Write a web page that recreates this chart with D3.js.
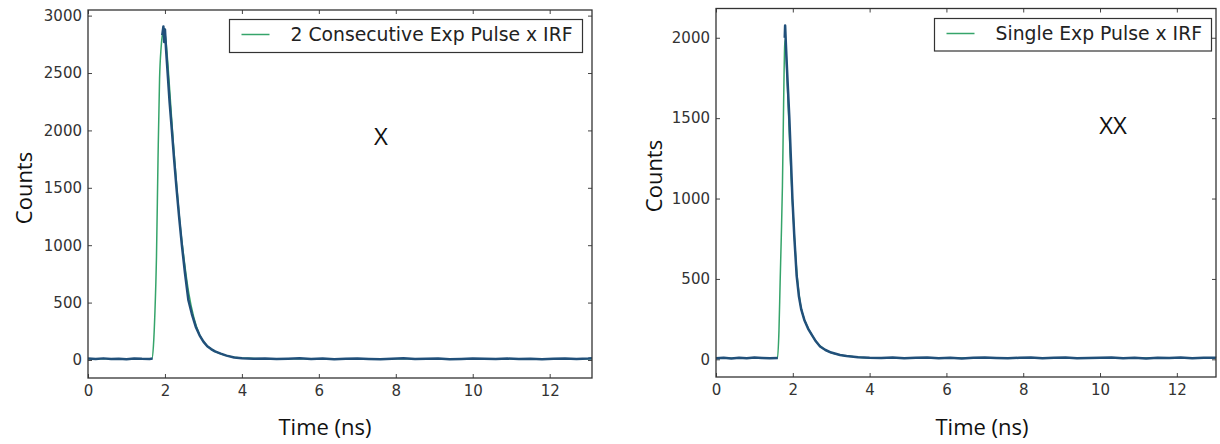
<!DOCTYPE html>
<html>
<head>
<meta charset="utf-8">
<script src="https://cdn.jsdelivr.net/npm/d3@7"></script>
<style>
body { margin: 0; background: #fff; }
svg { display: block; }
.tick text { font-family: "DejaVu Sans", sans-serif; font-size: 15px; fill: #333; }
.tick line { stroke: #444; stroke-width: 1; }
.label { font-family: "Open Sans", sans-serif; font-size: 22px; fill: #111; }
.legend text { font-family: "DejaVu Sans", sans-serif; font-size: 18.8px; fill: #222; }
</style>
</head>
<body>
<svg id="chart" width="1220" height="444"></svg>
<script>
'use strict';

// tick labels
var xTicks = [0, 2, 4, 6, 8, 10, 12];
var leftYTicks = [0, 500, 1000, 1500, 2000, 2500, 3000];
var rightYTicks = [0, 500, 1000, 1500, 2000];

// left panel: measured counts (blue) and fit (green)
var leftTime = [0, 0.2, 0.4, 0.6, 0.8, 1.0, 1.2, 1.4, 1.6,
    1.68, 1.72, 1.76, 1.79, 1.81, 1.83, 1.85, 1.89, 1.93, 1.96, 1.98, 2.0, 2.03, 2.07, 2.12, 2.18,
    2.24, 2.3, 2.37, 2.44, 2.52, 2.61, 2.7, 2.8, 2.9, 3.0, 3.1, 3.2, 3.3, 3.45, 3.6, 3.8, 4.0,
    4.3, 4.6, 4.9, 5.2, 5.5, 5.8, 6.1, 6.4, 6.7, 7.0, 7.3, 7.6, 7.9, 8.2, 8.5, 8.8, 9.1, 9.4, 9.7,
    10.0, 10.3, 10.6, 10.9, 11.2, 11.5, 11.8, 12.1, 12.4, 12.7, 13.0, 13.1];
var leftCounts = [12, 8, 14, 9, 11, 7, 13, 10, 9,
    12, 240, 520, 1000, 1500, 2000, 2480, 2700, 2830, 2905, 2770, 2880, 2700, 2500, 2250, 2000,
    1740, 1500, 1240, 1000, 760, 520, 400, 290, 215, 160, 120, 95, 75, 55, 38, 22, 15,
    10, 13, 8, 11, 14, 9, 12, 7, 10, 13, 9, 6, 11, 14, 8, 10, 12, 7, 9,
    13, 10, 8, 12, 9, 11, 6, 10, 13, 9, 12, 14];
var leftFitTime = [0, 1.66, 1.70, 1.74, 1.78, 1.82, 1.86, 1.90, 1.94, 1.98, 2.02, 2.08, 2.15, 2.22,
    2.3, 2.4, 2.5, 2.62, 2.75, 2.9, 3.05, 3.2, 3.4, 3.6, 3.85, 4.2, 4.8, 13.1];
var leftFitCounts = [10, 10, 120, 420, 900, 1750, 2450, 2720, 2840, 2870, 2800, 2560, 2220, 1880,
    1540, 1160, 870, 580, 370, 220, 140, 95, 60, 38, 22, 14, 10, 10];

// right panel
var rightTime = [0, 0.2, 0.4, 0.6, 0.8, 1.0, 1.2, 1.4, 1.61,
    1.64, 1.67, 1.70, 1.73, 1.75, 1.77, 1.79, 1.80, 1.82, 1.85,
    1.91, 1.95, 1.99, 2.04, 2.1, 2.16, 2.22, 2.3, 2.4, 2.5,
    2.6, 2.71, 2.85, 3.0, 3.23, 3.4, 3.7, 4.0,
    4.3, 4.6, 4.9, 5.2, 5.5, 5.8, 6.1, 6.4, 6.7, 7.0, 7.3, 7.6, 7.9, 8.2, 8.5, 8.8, 9.1, 9.4, 9.7,
    10.0, 10.3, 10.6, 10.9, 11.2, 11.5, 11.8, 12.1, 12.4, 12.7, 13.0, 13.02];
var rightCounts = [7, 10, 5, 9, 6, 11, 8, 6, 8,
    200, 500, 740, 1050, 1450, 1780, 2000, 2076, 1960, 1800,
    1500, 1250, 1000, 760, 520, 390, 310, 245, 190, 150,
    112, 80, 58, 42, 27, 20, 13, 9,
    8, 11, 6, 9, 12, 7, 10, 5, 9, 11, 8, 6, 10, 12, 7, 9, 11, 6, 8,
    10, 12, 7, 9, 5, 10, 8, 11, 7, 9, 10, 8];
var rightFitTime = [0, 1.60, 1.64, 1.67, 1.70, 1.73, 1.76, 1.79, 1.81, 1.84, 1.88, 1.93, 1.99, 2.05,
    2.12, 2.2, 2.3, 2.42, 2.55, 2.7, 2.9, 3.1, 3.4, 3.8, 4.3, 13.02];
var rightFitCounts = [7, 7, 180, 480, 760, 1080, 1580, 1960, 1990, 1820, 1580, 1280, 980, 730,
    500, 340, 250, 185, 130, 85, 52, 34, 20, 12, 8, 8];

var svg = d3.select('#chart');
svg.append('rect').attr('width', 1220).attr('height', 444).attr('fill', '#fff');

var dataColor = '#21507a',
    fitColor = '#35a46a';

var drawPanel = function(p) {
    var x = d3.scaleLinear().domain(p.xDomain).range([p.left, p.right]);
    var y = d3.scaleLinear().domain(p.yDomain).range([p.bottom, p.top]);
    var g = svg.append('g');

    var noDomain = function(sel) { sel.select('.domain').remove(); };

    g.append('g').attr('transform', 'translate(0,' + p.bottom + ')')
        .call(d3.axisBottom(x).tickValues(xTicks).tickSize(-4).tickPadding(7).tickFormat(d3.format('d')))
        .call(noDomain);
    g.append('g').attr('transform', 'translate(0,' + p.top + ')')
        .call(d3.axisTop(x).tickValues(xTicks).tickSize(-4).tickFormat(''))
        .call(noDomain);
    g.append('g').attr('transform', 'translate(' + p.left + ',0)')
        .call(d3.axisLeft(y).tickValues(p.yTicks).tickSize(-4).tickPadding(6).tickFormat(d3.format('d')))
        .call(noDomain);
    g.append('g').attr('transform', 'translate(' + p.right + ',0)')
        .call(d3.axisRight(y).tickValues(p.yTicks).tickSize(-4).tickFormat(''))
        .call(noDomain);

    var fit = d3.zip(p.fitTime, p.fitCounts);
    var data = d3.zip(p.time, p.counts);

    var fitLine = d3.line().curve(d3.curveMonotoneX)
        .x(function(d) { return x(d[0]); })
        .y(function(d) { return y(d[1]); });
    // the rising edge has only a few sparse samples, so the fit shows through there
    var dataLine = d3.line()
        .defined(function(d) { return d[0] <= p.riseFrom || d[0] >= p.riseTo; })
        .x(function(d) { return x(d[0]); })
        .y(function(d) { return y(d[1]); });

    g.append('path').attr('d', fitLine(fit))
        .attr('fill', 'none').attr('stroke', fitColor).attr('stroke-width', 1.5);
    g.append('path').attr('d', dataLine(data))
        .attr('fill', 'none').attr('stroke', dataColor).attr('stroke-width', 2.5)
        .attr('stroke-linejoin', 'round');

    g.append('rect')
        .attr('x', p.left).attr('y', p.top)
        .attr('width', p.right - p.left).attr('height', p.bottom - p.top)
        .attr('fill', 'none').attr('stroke', '#333').attr('stroke-width', 1.3);

    var lg = g.append('g').attr('class', 'legend');
    lg.append('rect')
        .attr('x', p.legend[0]).attr('y', p.legend[1])
        .attr('width', p.legend[2]).attr('height', p.legend[3])
        .attr('fill', '#fff').attr('stroke', '#333').attr('stroke-width', 1.2);
    lg.append('line')
        .attr('x1', p.legend[0] + 12).attr('x2', p.legend[0] + 40)
        .attr('y1', p.legend[1] + 15).attr('y2', p.legend[1] + 15)
        .attr('stroke', fitColor).attr('stroke-width', 1.5);
    lg.append('text')
        .attr('x', p.legend[0] + 61).attr('y', p.legend[1] + 21.5)
        .text(p.name);

    svg.append('text').attr('class', 'label')
        .attr('transform', 'translate(' + p.yLabel[0] + ',' + p.yLabel[1] + ') rotate(-90)')
        .attr('text-anchor', 'middle')
        .text('Counts');
    svg.append('text').attr('class', 'label')
        .attr('x', p.xLabel[0]).attr('y', p.xLabel[1])
        .attr('text-anchor', 'middle')
        .text('Time (ns)');
    svg.append('text').attr('class', 'label')
        .attr('x', p.mark[0]).attr('y', p.mark[1])
        .attr('text-anchor', 'middle')
        .style('font-size', '24px')
        .text(p.markText);
};

drawPanel({
    name: '2 Consecutive Exp Pulse x IRF',
    markText: 'X',
    time: leftTime, counts: leftCounts,
    fitTime: leftFitTime, fitCounts: leftFitCounts,
    riseFrom: 1.68, riseTo: 1.93,
    xDomain: [0, 13.1], yDomain: [-157, 3049], yTicks: leftYTicks,
    left: 88, right: 592, top: 10, bottom: 378,
    legend: [229.5, 19.5, 353, 33],
    yLabel: [31.5, 188], xLabel: [325, 435], mark: [381, 145]
});

drawPanel({
    name: 'Single Exp Pulse x IRF',
    markText: 'XX',
    time: rightTime, counts: rightCounts,
    fitTime: rightFitTime, fitCounts: rightFitCounts,
    riseFrom: 1.61, riseTo: 1.79,
    xDomain: [0, 13.02], yDomain: [-110, 2182], yTicks: rightYTicks,
    left: 716, right: 1216, top: 8.5, bottom: 377,
    legend: [934.5, 18.5, 277, 32.5],
    yLabel: [661.5, 176], xLabel: [982, 435], mark: [1113, 134]
});
</script>
</body>
</html>
